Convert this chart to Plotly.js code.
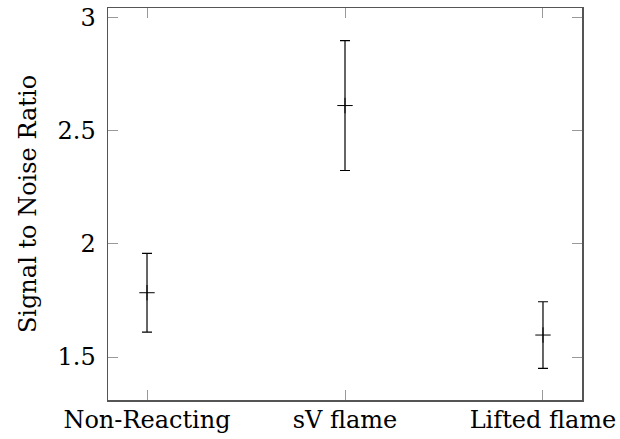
<!DOCTYPE html>
<html><head><meta charset="utf-8">
<script src="https://cdn.plot.ly/plotly-3.0.1.min.js"></script>
<style>body{margin:0;background:#fff}#chart{width:620px;height:439px}</style>
</head><body><div id="chart"></div>
<script>
const categories = ["Non-Reacting", "sV flame", "Lifted flame"];
const snrMean = [1.784, 2.611, 1.597];
const snrError = [0.174, 0.287, 0.147];
const yTicks = [1.5, 2, 2.5, 3];
const yTickLabels = ["1.5", "2", "2.5", "3"];

const font = {family: "DejaVu Serif", size: 24, color: "#000"};
const trace = {
  type: "scatter", mode: "markers",
  x: categories.map((c, i) => i), y: snrMean,
  marker: {symbol: "cross-thin", size: 11, line: {color: "#000", width: 1}},
  error_y: {type: "data", array: snrError, visible: true, color: "#000", thickness: 1.2, width: 5},
  showlegend: false, hoverinfo: "skip"
};
const layout = {
  width: 620, height: 439,
  margin: {l: 108, r: 38, t: 8, b: 39},
  paper_bgcolor: "#fff", plot_bgcolor: "#fff",
  font: font,
  xaxis: {range: [-0.197, 2.197], tickvals: [0, 1, 2], ticktext: categories,
    ticks: "inside", ticklen: 10, tickcolor: "#999", tickwidth: 1,
    showline: true, linecolor: "#555", linewidth: 1.5, mirror: "allticks",
    showgrid: false, zeroline: false, tickfont: font, ticklabelstandoff: -2},
  yaxis: {range: [1.31, 3.042], tickvals: yTicks, ticktext: yTickLabels,
    ticks: "inside", ticklen: 10, tickcolor: "#999", tickwidth: 1,
    showline: true, linecolor: "#555", linewidth: 1.5, mirror: "allticks",
    showgrid: false, zeroline: false, tickfont: font, ticklabelstandoff: 6,
    title: {text: "Signal to Noise Ratio", font: font, standoff: 14}}
};
Plotly.newPlot("chart", [trace], layout, {staticPlot: true});
</script></body></html>
